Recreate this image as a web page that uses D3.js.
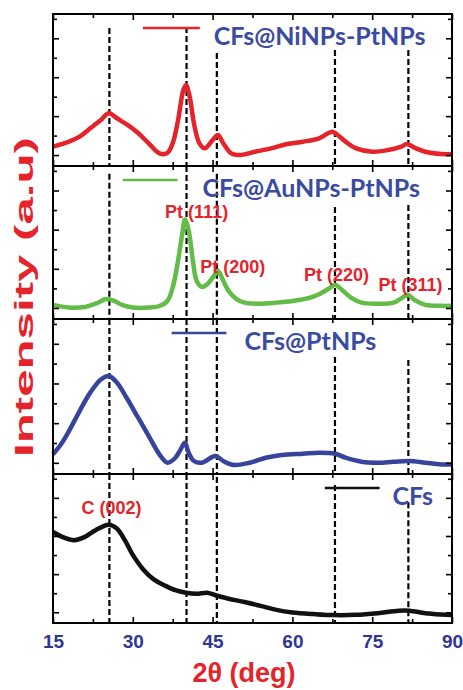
<!DOCTYPE html>
<html>
<head>
<meta charset="utf-8">
<script src="https://cdn.jsdelivr.net/npm/d3@7"></script>
<style>
  html, body { margin: 0; background: #fff; }
  svg { display: block; }
</style>
</head>
<body>
<div id="chart"></div>
<script>
// 2theta ticks and labels
const angleTicks = d3.range(15, 90.1, 7.5);
const angleLabels = [15, 30, 45, 60, 75, 90];

// intensity (a.u., 0 = panel bottom, 100 = panel top)
const niPt = [[15,12.7],[18,16],[20,19.3],[22,24.8],[24,30.3],[25.5,34.7],[27,31.4],[29,27],[31,21.7],[33,14.9],[35,8.3],[36.5,8.6],[37.5,15],[38.5,30],[39.5,50],[40,53.3],[40.7,45.6],[41.5,28],[42.5,15],[43.5,11.6],[45,17],[46,20.4],[47,15],[48.5,8.3],[50,7.2],[53,9.4],[56,11.6],[59,14.5],[62,16],[65,18.2],[67.5,22.6],[68.5,20.4],[70,16],[72,11.6],[75,9.4],[78,10.5],[80.5,12.7],[81.5,14.5],[83,12],[85,9.4],[88,7.9],[90,7.9]];
const auPt = [[15,9.2],[18,7.5],[21,7.9],[23,10],[25,13],[26.5,11.8],[28,9.2],[30,7.5],[33,7.5],[35,8.5],[36.5,11.8],[37.5,20.6],[38.5,38],[39.3,55.7],[39.8,65],[40.5,57.9],[41.3,38],[42,25],[43,21],[44,22.8],[45.5,29.4],[46,31.6],[47,25],[48,18.4],[49.5,13],[51,10.7],[54,10],[57,10.7],[60,11.8],[63,13.6],[65,16.2],[67,20.2],[68,22.4],[69.5,18.4],[71,14],[73,10.7],[76,10],[79,10.7],[80.5,13.6],[81.7,15.8],[83,12.3],[85,9.2],[88,8.6],[90,8.6]];
const ptOnly = [[15,12.7],[16.5,19.2],[18,27.7],[20,40.6],[22,52.5],[24,61],[25.5,63.2],[27,59],[29,48.2],[31,36.3],[33,24.5],[35,12.7],[36.5,7.3],[38,10.5],[39,15.9],[39.8,20.2],[40.5,13.7],[41.5,8.4],[43,7.3],[45.5,11.6],[47,8.4],[49,5.8],[52,7.3],[55,10.5],[58,12.3],[62,13.1],[65,13.7],[68,13.1],[70,10.5],[73,7.9],[76,7.3],[79,7.9],[82,8.4],[85,7.3],[88,6.2],[90,6.2]];
const cfs = [[15,61.1],[17,57.4],[19,55.6],[21,57.8],[23,62.3],[25.5,66],[27,63.4],[28.5,55.6],[30,45.7],[32,35.8],[34,29.1],[36,25.2],[38,22],[40,20.3],[42,19.6],[44,20.3],[46,18.1],[48,16.3],[51,14.1],[54,11.5],[57,8.8],[60,7.1],[64,6],[68,5.3],[72,5.5],[76,6.6],[80,8.2],[82,8.2],[85,6.6],[88,5.7],[90,5.3]];

const seriesNames = ["CFs@NiNPs-PtNPs", "CFs@AuNPs-PtNPs", "CFs@PtNPs", "CFs"];
const seriesData = [niPt, auPt, ptOnly, cfs];
const seriesColors = ["#e5232b", "#62bc47", "#36449c", "#111111"];

// dashed reference lines (2theta) and where each starts in every panel
const refAngles = [25.6, 40.1, 45.8, 68.0, 81.8];
const refStart = [
  [90.8, 91.4, 74.3, 76.3, 76.3],
  [95, 100, 95, 73.2, 74.5],
  [100, 100, 100, 75.5, 73.5],
  [100, 100, 98, 92.6, 81]
];

// peak labels: panel, 2theta, intensity, text
const peakLabels = [
  [1, 42.0, 65.8, "Pt (111)"],
  [1, 48.8, 29.9, "Pt (200)"],
  [1, 68.3, 25.0, "Pt (220)"],
  [1, 82.2, 18.5, "Pt (311)"],
  [3, 26.0, 73.2, "C (002)"]
];

// legend: line from/to (2theta), text start (2theta)
const legendLine = [[31.9, 42.6], [28.1, 38.4], [37.3, 47.6], [66.1, 76.4]];
const legendText = [45.2, 43.1, 51.0, 78.8];

const width = 463, height = 690;
const bounds = [14, 166, 319, 474, 623];
const left = 53, right = 452;

const svg = d3.select("#chart").append("svg").attr("width", width).attr("height", height);

const x = d3.scaleLinear().domain([15, 90]).range([left, right]);
const yTicks = d3.range(7.2, 100, 12.8);

seriesData.forEach((data, i) => {
  const top = bounds[i], bottom = bounds[i + 1];
  const y = d3.scaleLinear().domain([0, 100]).range([bottom, top]);
  const g = svg.append("g");

  // reference lines
  g.selectAll("line.ref")
    .data(refAngles)
    .join("line")
    .attr("x1", (d) => x(d))
    .attr("x2", (d) => x(d))
    .attr("y1", (d, j) => y(refStart[i][j]))
    .attr("y2", bottom)
    .attr("stroke", "#000")
    .attr("stroke-width", 2.2)
    .attr("stroke-dasharray", "6,3");

  // curve
  const line = d3.line().x((d) => x(d[0])).y((d) => y(d[1])).curve(d3.curveCatmullRom.alpha(0.5));
  g.append("path")
    .datum(data)
    .attr("d", line)
    .attr("fill", "none")
    .attr("stroke", seriesColors[i])
    .attr("stroke-width", 4.5)
    .attr("stroke-linejoin", "round");

  // legend
  g.append("line")
    .attr("x1", x(legendLine[i][0]))
    .attr("x2", x(legendLine[i][1]))
    .attr("y1", top + 14)
    .attr("y2", top + 14)
    .attr("stroke", seriesColors[i])
    .attr("stroke-width", 2.5);
  g.append("text")
    .attr("x", x(legendText[i]))
    .attr("y", top + 31)
    .attr("fill", "#3a4ba2")
    .style("font-family", "Lato, sans-serif")
    .style("font-weight", 700)
    .style("font-size", "25px")
    .text(seriesNames[i]);

  // ticks, pointing inward on every side
  const isMajor = (d) => angleLabels.includes(d);
  const bottomAxis = g.append("g").attr("transform", `translate(0,${bottom})`)
    .call(d3.axisBottom(x).tickValues(angleTicks).tickSize(-6).tickFormat(""));
  bottomAxis.selectAll(".tick line").attr("y2", (d) => (isMajor(d) ? -6 : -4));
  const topAxis = g.append("g").attr("transform", `translate(0,${top})`)
    .call(d3.axisTop(x).tickValues(angleTicks).tickSize(-6).tickFormat(""));
  topAxis.selectAll(".tick line").attr("y2", (d) => (isMajor(d) ? 6 : 4));
  const leftAxis = g.append("g").attr("transform", `translate(${left},0)`)
    .call(d3.axisLeft(y).tickValues(yTicks).tickSize(-6).tickFormat(""));
  leftAxis.selectAll(".tick line").attr("x2", (d, k) => (k % 2 === 0 ? 6 : 4));
  const rightAxis = g.append("g").attr("transform", `translate(${right},0)`)
    .call(d3.axisRight(y).tickValues(yTicks).tickSize(-6).tickFormat(""));
  rightAxis.selectAll(".tick line").attr("x2", (d, k) => (k % 2 === 0 ? -6 : -4));
  g.selectAll(".domain").remove();
  g.selectAll(".tick line").attr("stroke", "#000").attr("stroke-width", 1.6);

  // frame
  g.append("rect")
    .attr("x", left)
    .attr("y", top)
    .attr("width", right - left)
    .attr("height", bottom - top)
    .attr("fill", "none")
    .attr("stroke", "#000")
    .attr("stroke-width", 2);

  // peak labels
  peakLabels.filter((p) => p[0] === i).forEach((p) => {
    g.append("text")
      .attr("x", x(p[1]))
      .attr("y", y(p[2]))
      .attr("text-anchor", "middle")
      .attr("fill", "#e5232b")
      .style("font-family", "'Liberation Sans', Arial, sans-serif")
      .style("font-weight", 700)
      .style("font-size", "18px")
      .text(p[3]);
  });
});

// x tick labels
const labelAxis = svg.append("g")
  .attr("transform", `translate(0,${bounds[4]})`)
  .call(d3.axisBottom(x).tickValues(angleLabels).tickSize(0).tickPadding(12));
labelAxis.select(".domain").remove();
labelAxis.selectAll("text")
  .attr("fill", "#2f3694")
  .style("font-family", "'Liberation Sans', Arial, sans-serif")
  .style("font-weight", 700)
  .style("font-size", "19px");

// axis titles
svg.append("text")
  .attr("x", 244)
  .attr("y", 682)
  .attr("text-anchor", "middle")
  .attr("fill", "#e5232b")
  .style("font-family", "'Liberation Sans', Arial, sans-serif")
  .style("font-weight", 700)
  .style("font-size", "27px")
  .text("2θ (deg)");

svg.append("text")
  .attr("transform", "translate(33,297) rotate(-90)")
  .attr("text-anchor", "middle")
  .attr("fill", "#e5232b")
  .attr("textLength", 320)
  .attr("lengthAdjust", "spacingAndGlyphs")
  .style("font-family", "'Liberation Sans', Arial, sans-serif")
  .style("font-weight", 700)
  .style("font-size", "25px")
  .text("Intensity (a.u)");
</script>
</body>
</html>
